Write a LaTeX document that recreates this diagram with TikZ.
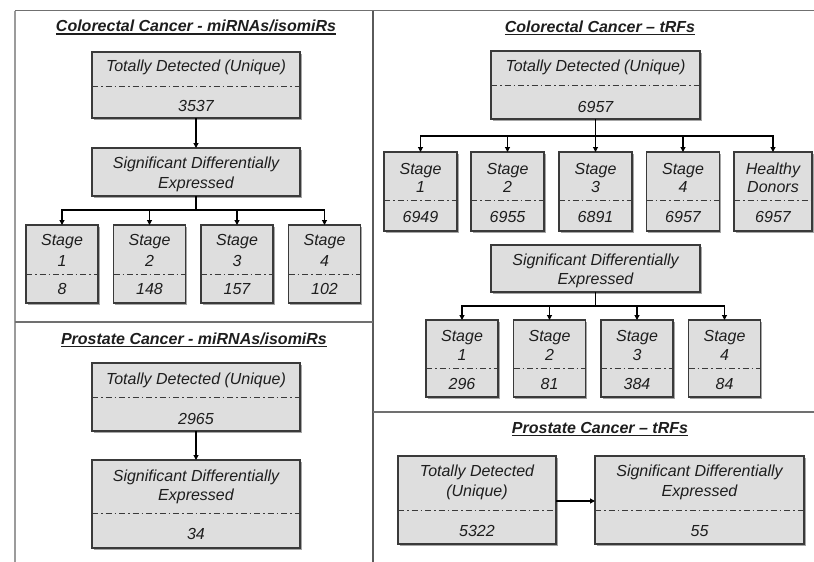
\documentclass[tikz,border=0pt]{standalone}
\usepackage{fontspec}
\setmainfont{Liberation Sans}
\usetikzlibrary{arrows.meta,shadows}
\definecolor{boxfill}{HTML}{DEDEDE}
\definecolor{boxdraw}{HTML}{3A3A3A}
\definecolor{txt}{HTML}{1E1E1E}
\definecolor{framec}{HTML}{707070}
\tikzset{
 box/.style={draw=boxdraw, fill=boxfill, line width=1.1pt, inner sep=0pt, outer sep=0pt,
   drop shadow={shadow xshift=1.5pt, shadow yshift=-1.5pt, opacity=0.35, fill=black}},
 dd/.style={draw=boxdraw, line width=1pt, dash pattern=on 6pt off 3pt on 1.5pt off 3pt},
 lbl/.style={anchor=base, inner sep=0pt, outer sep=0pt, text=txt, font=\fontsize{16}{20}\selectfont\itshape},
 ttl/.style={anchor=base, inner sep=0pt, outer sep=0pt, text=txt, font=\fontsize{16}{20}\selectfont\bfseries\itshape},
 arr/.style={draw=black, line width=1.1pt, -{Triangle[length=5pt,width=5pt]}},
 frame/.style={draw=framec, line width=1.5pt},
}
\newcommand\bx[5]{\node[box, minimum width={((#4)-(#2))*1pt}, minimum height={((#5)-(#3))*1pt}] (#1) at ({((#2)+(#4))/2},{((#3)+(#5))/2}) {};}
\newcommand\dv[2]{\draw[dd] (#1.west |- 0,#2) -- (#1.east |- 0,#2);}
\newcommand\tx[4]{\node[lbl] (#1) at (#2,#3) {#4};}
\newcommand\ul[1]{\draw[txt, line width=1.2pt] ([yshift=-2.5pt]#1.base west) -- ([yshift=-2.5pt]#1.base east);}
\begin{document}
\begin{tikzpicture}[x=1pt,y=-1pt]
\useasboundingbox (0,0) rectangle (814,562);
% frame lines
\draw[frame] (15,10.5) -- (814,10.5);
\draw[frame, draw=framec!70] (15,10.5) -- (15,562);
\draw[frame, draw=framec!80!black] (373,10.5) -- (373,562);
\draw[frame] (15,322) -- (373,322);
\draw[frame] (373,412) -- (814,412);

% ---------- Colorectal miRNA ----------
\node[ttl] (T1) at (196,31.5) {Colorectal Cancer - miRNAs/isomiRs}; \ul{T1}
\bx{TD1}{92}{52}{300}{118} \dv{TD1}{86}
\tx{TD1a}{196}{71.5}{Totally Detected (Unique)}
\tx{TD1b}{196}{111.5}{3537}
\bx{SDE1}{92}{148}{300}{196}
\tx{SDE1a}{196}{168.5}{Significant Differentially}
\tx{SDE1b}{196}{188.5}{Expressed}
\draw[arr] (TD1.south) -- (SDE1.north);
\coordinate (j1) at (196,210);
\foreach \i/\cx/\n in {1/62/8,2/149.5/148,3/237/157,4/324.5/102}{
  \bx{L\i}{\cx-36}{225}{\cx+36}{303} \dv{L\i}{274}
  \tx{Lt\i}{\cx}{245.5}{Stage}
  \tx{Lv\i}{\cx}{266}{\i}
  \tx{Ln\i}{\cx}{294}{\n}
  \draw[arr] (SDE1.south) -- (j1) -| (L\i.north);
}

% ---------- Prostate miRNA ----------
\node[ttl] (T2) at (194,344) {Prostate Cancer - miRNAs/isomiRs}; \ul{T2}
\bx{TD2}{92}{363}{300}{431} \dv{TD2}{397}
\tx{TD2a}{196}{384}{Totally Detected (Unique)}
\tx{TD2b}{196}{424}{2965}
\bx{SDE2}{92}{460}{300}{548} \dv{SDE2}{513}
\tx{SDE2a}{196}{481.5}{Significant Differentially}
\tx{SDE2b}{196}{500}{Expressed}
\tx{SDE2c}{196}{539}{34}
\draw[arr] (TD2.south) -- (SDE2.north);

% ---------- Colorectal tRFs ----------
\node[ttl] (T3) at (600,32) {Colorectal Cancer – tRFs}; \ul{T3}
\bx{TD3}{491}{51}{700}{119} \dv{TD3}{85}
\tx{TD3a}{595.5}{71.5}{Totally Detected (Unique)}
\tx{TD3b}{595.5}{112}{6957}
\coordinate (j3) at (595.5,136);
\foreach \i/\cx/\n in {1/420.5/6949,2/507.5/6955,3/595.5/6891,4/683/6957}{
  \bx{R\i}{\cx-36.5}{152}{\cx+36.5}{231} \dv{R\i}{200}
  \tx{Rt\i}{\cx}{174}{Stage}
  \tx{Rv\i}{\cx}{192.5}{\i}
  \tx{Rn\i}{\cx}{222.5}{\n}
  \draw[arr] (TD3.south) -- (j3) -| (R\i.north);
}
\bx{HD}{734}{152}{812}{231} \dv{HD}{200}
\tx{HDa}{773}{174}{Healthy}
\tx{HDb}{773}{192.5}{Donors}
\tx{HDc}{773}{222.5}{6957}
\draw[arr] (TD3.south) -- (j3) -| (HD.north);

\bx{SDE3}{491}{245}{700}{292}
\tx{SDE3a}{595.5}{265}{Significant Differentially}
\tx{SDE3b}{595.5}{284}{Expressed}
\coordinate (j4) at (595.5,306);
\foreach \i/\cx/\n in {1/462/296,2/549.5/81,3/637/384,4/724.5/84}{
  \bx{S\i}{\cx-36}{320}{\cx+36}{397} \dv{S\i}{368}
  \tx{St\i}{\cx}{341.5}{Stage}
  \tx{Sv\i}{\cx}{360}{\i}
  \tx{Sn\i}{\cx}{389}{\n}
  \draw[arr] (SDE3.south) -- (j4) -| (S\i.north);
}

% ---------- Prostate tRFs ----------
\node[ttl] (T4) at (600,433) {Prostate Cancer – tRFs}; \ul{T4}
\bx{TD4}{398}{456}{556}{544} \dv{TD4}{510}
\tx{TD4a}{477}{476.5}{Totally Detected}
\tx{TD4b}{477}{496}{(Unique)}
\tx{TD4c}{477}{536}{5322}
\bx{SDE4}{595}{456}{804}{544} \dv{SDE4}{510}
\tx{SDE4a}{699.5}{476.5}{Significant Differentially}
\tx{SDE4b}{699.5}{496}{Expressed}
\tx{SDE4c}{699.5}{536}{55}
\draw[arr] (TD4.east |- 0,501) -- (SDE4.west |- 0,501);
\end{tikzpicture}
\end{document}
